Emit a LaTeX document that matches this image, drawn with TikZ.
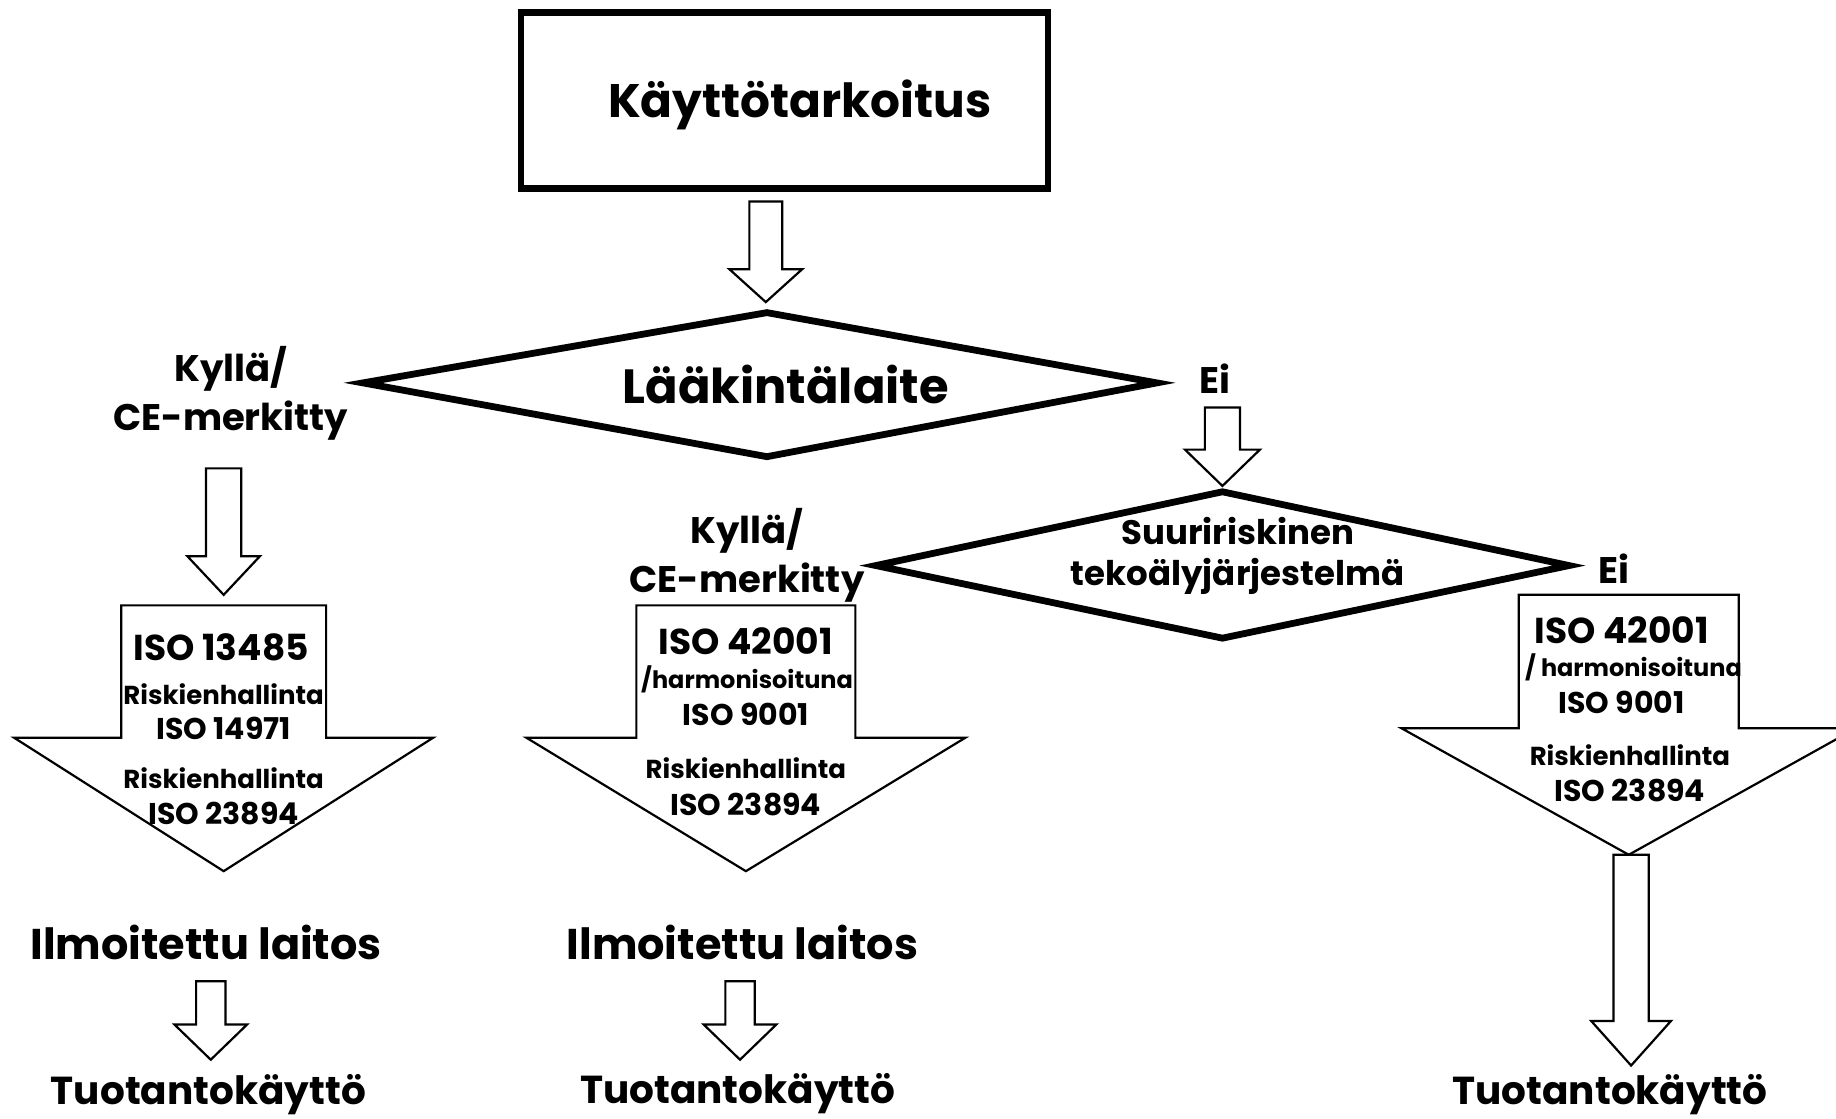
\documentclass[tikz,border=0pt]{standalone}
\usepackage{fontspec}
\setmainfont{Poppins}
\newcommand{\fsz}[1]{\fontsize{#1}{1.2\dimexpr #1pt\relax}\selectfont\bfseries}
\tikzset{
  blk/.style={draw, line width=1.1pt, fill=white, line join=miter},
  heavy/.style={draw, line width=3.4pt, line join=miter, fill=white},
  lbl/.style={font=\fsz{21}, inner sep=0pt},
  ans/.style={font=\fontsize{18.5}{24.6}\selectfont\bfseries, align=center, inner sep=0pt},
  iso/.style={font=\fsz{18}, inner sep=0pt},
  sml/.style={font=\fsz{13}, inner sep=0pt},
  mid/.style={font=\fsz{15}, inner sep=0pt},
}
% block arrow pointing down: x, top, neck, tip, shaft half width, head half width
\newcommand{\blockdown}[6]{%
  \draw[blk] (#1-#5,#2) -- (#1+#5,#2) -- (#1+#5,#3) -- (#1+#6,#3) -- (#1,#4)
    -- (#1-#6,#3) -- (#1-#5,#3) -- cycle;}
\begin{document}
\begin{tikzpicture}[x=0.5855pt, y=-0.5855pt]
\useasboundingbox (0,0) rectangle (1568,955);

% top
\draw[heavy] (445,11) rectangle (895,161);
\node[lbl, font=\fsz{23.5}] (purpose) at (683,90) {Käyttötarkoitus};
\blockdown{654}{172}{230}{258}{14}{31}

% first decision
\draw[heavy] (310,327) -- (655,267) -- (988,327) -- (655,390) -- cycle;
\node[lbl, font=\fsz{24}] (device) at (671,328) {Lääkintälaite};
\node[ans] (yesA) at (197,336) {Kyllä/\\CE-merkitty};
\node[ans] (noA) at (1038,323) {Ei};
\blockdown{191}{400}{475}{508}{15}{31}
\blockdown{1044}{348}{384}{415}{15}{32}

% second decision
\draw[heavy] (748,483) -- (1044,420) -- (1340,483) -- (1044,545) -- cycle;
\node[font=\fontsize{17}{20.5}\selectfont\bfseries, align=center, inner sep=0pt] (highrisk) at (1057,475)
  {Suuririskinen\\tekoälyjärjestelmä};
\node[ans] (yesB) at (638,474) {Kyllä/\\CE-merkitty};
\node[ans] (noB) at (1378,486) {Ei};

% left branch
\blockdown{191}{517}{630}{744}{87.5}{179}
\node[iso] (isoL1) at (189,553) {ISO 13485};
\node[sml] (riskL1) at (191,593) {Riskienhallinta};
\node[mid] (isoL2) at (191,622) {ISO 14971};
\node[sml] (riskL2) at (191,665) {Riskienhallinta};
\node[mid] (isoL3) at (191,695) {ISO 23894};
\node[lbl, font=\fsz{21.5}] (bodyL) at (176,805) {Ilmoitettu laitos};
\blockdown{180}{838}{875}{905}{12.5}{31}
\node[lbl, font=\fsz{19.5}] (useL) at (178,935) {Tuotantokäyttö};

% middle branch
\blockdown{637}{517}{630}{744}{93.5}{187.5}
\node[iso] (isoM1) at (637,548) {ISO 42001};
\node[sml, font=\fsz{12}] (harmM) at (638,580) {/harmonisoituna};
\node[mid] (isoM2) at (637,610) {ISO 9001};
\node[sml] (riskM) at (637,656) {Riskienhallinta};
\node[mid] (isoM3) at (637,687) {ISO 23894};
\node[lbl, font=\fsz{21.5}] (bodyM) at (634,805) {Ilmoitettu laitos};
\blockdown{632}{838}{875}{905}{12.5}{31}
\node[lbl, font=\fsz{19.5}] (useM) at (630,934) {Tuotantokäyttö};

% right branch
\blockdown{1391}{508}{622}{730}{94}{194}
\node[iso] (isoR1) at (1385,538) {ISO 42001};
\node[sml, font=\fsz{12}] (harmR) at (1395,570) {/ harmonisoituna};
\node[mid] (isoR2) at (1385,600) {ISO 9001};
\node[sml] (riskR) at (1392,645) {Riskienhallinta};
\node[mid] (isoR3) at (1392,675) {ISO 23894};
\blockdown{1393}{730}{872}{910}{15}{34}
\node[lbl, font=\fsz{19.5}] (useR) at (1375,935) {Tuotantokäyttö};
\end{tikzpicture}
\end{document}
